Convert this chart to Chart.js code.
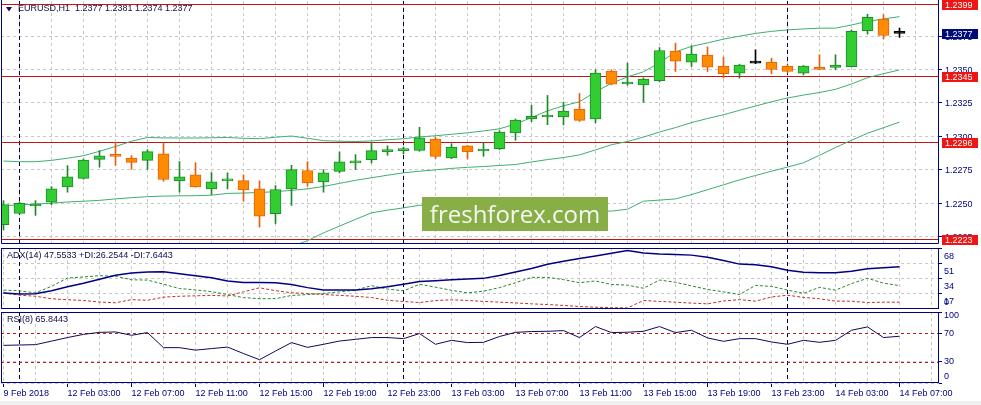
<!DOCTYPE html>
<html>
<head>
<meta charset="utf-8">
<title>EURUSD H1</title>
<script src="https://cdn.jsdelivr.net/npm/chart.js@4.4.1/dist/chart.umd.min.js"></script>
<style>
  body { margin: 0; background: #f0f0f0; }
  #wrap { position: relative; width: 981px; height: 405px; }
  #wrap canvas { position: absolute; left: 0; background: #fff; }
</style>
</head>
<body>
<div id="wrap">
  <canvas id="price-chart" width="981" height="246" style="top:0"></canvas>
  <canvas id="adx-chart" width="981" height="64" style="top:246px"></canvas>
  <canvas id="rsi-chart" width="981" height="91" style="top:310px"></canvas>
</div>
<script>
// EURUSD H1 bars, 9 Feb 23:00 .. 14 Feb 07:00
const opens = [1.2234, 1.22424, 1.2248, 1.22508, 1.22623, 1.22687, 1.22829, 1.22864, 1.22839, 1.22821,
  1.22869, 1.22668, 1.22712, 1.22608, 1.22668, 1.2267, 1.22608, 1.22422, 1.22608, 1.22745,
  1.2266, 1.22739, 1.22802, 1.22827, 1.22884, 1.22894, 1.22896, 1.22981, 1.22839, 1.22929,
  1.22891, 1.22909, 1.23026, 1.2313, 1.23145, 1.23145, 1.23205, 1.2313, 1.23488, 1.23392,
  1.23384, 1.23416, 1.23637, 1.23555, 1.23607, 1.23525, 1.23473, 1.23548, 1.23555, 1.23525,
  1.23473, 1.23518, 1.23515, 1.23522, 1.23791, 1.23876, 1.2377];
const highs = [1.2252, 1.2251, 1.2252, 1.22625, 1.22782, 1.2283, 1.22894, 1.22956, 1.22857, 1.22901,
  1.22951, 1.22812, 1.22804, 1.2273, 1.22728, 1.22713, 1.22668, 1.22633, 1.22784, 1.22812,
  1.22752, 1.22884, 1.22864, 1.22956, 1.2293, 1.22919, 1.23068, 1.22993, 1.22946, 1.22933,
  1.22951, 1.23043, 1.2313, 1.23232, 1.23306, 1.23257, 1.23321, 1.23498, 1.23498, 1.23548,
  1.23438, 1.23664, 1.23697, 1.23677, 1.23669, 1.23593, 1.2354, 1.23647, 1.23585, 1.23535,
  1.2353, 1.2361, 1.2361, 1.23796, 1.23913, 1.2391, 1.2381];
const lows = [1.2230, 1.2242, 1.2241, 1.2249, 1.22583, 1.2268, 1.2277, 1.22784, 1.22754, 1.22754,
  1.22665, 1.22583, 1.2262, 1.22566, 1.22608, 1.22516, 1.22322, 1.22349, 1.22484, 1.22628,
  1.22583, 1.22727, 1.22752, 1.22802, 1.22859, 1.22869, 1.22889, 1.22834, 1.22834, 1.22832,
  1.22851, 1.22901, 1.22971, 1.2311, 1.23088, 1.23086, 1.23112, 1.23101, 1.23385, 1.23383,
  1.23254, 1.23408, 1.23485, 1.23522, 1.23485, 1.23436, 1.23436, 1.23543, 1.23468, 1.23473,
  1.2346, 1.23498, 1.23498, 1.2352, 1.23764, 1.23729, 1.2374];
const closes = [1.2249, 1.2250, 1.2249, 1.22608, 1.22698, 1.22824, 1.22854, 1.22851, 1.22806, 1.22886,
  1.22678, 1.22698, 1.22623, 1.2266, 1.22683, 1.2260, 1.22404, 1.22603, 1.22752, 1.22653,
  1.22727, 1.2281, 1.22812, 1.22894, 1.22901, 1.22897, 1.22989, 1.22851, 1.22921, 1.22884,
  1.22901, 1.23033, 1.23123, 1.2315, 1.2315, 1.2319, 1.2312, 1.23473, 1.23391, 1.23396,
  1.23428, 1.23642, 1.23563, 1.23615, 1.23518, 1.23468, 1.23533, 1.23548, 1.235, 1.23485,
  1.23525, 1.235, 1.23533, 1.23786, 1.2389, 1.23754, 1.2377];

// Bollinger bands
const bbUpper = [1.22816, 1.22811, 1.22811, 1.22821, 1.22837, 1.22856, 1.22889, 1.22925, 1.22964, 1.22992,
  1.22989, 1.22988, 1.22988, 1.2299, 1.22992, 1.22986, 1.22983, 1.22994, 1.23003, 1.22986,
  1.22968, 1.22964, 1.22962, 1.22966, 1.22975, 1.22983, 1.22996, 1.23005, 1.23016, 1.23027,
  1.23041, 1.23057, 1.23093, 1.23141, 1.23191, 1.23229, 1.23259, 1.23333, 1.23397, 1.23445,
  1.23483, 1.2355, 1.23632, 1.23673, 1.23699, 1.23727, 1.23749, 1.2377, 1.23785, 1.23796,
  1.23803, 1.23809, 1.23809, 1.23833, 1.23859, 1.23878, 1.23895];
const bbMiddle = [1.22483, 1.22488, 1.22494, 1.22501, 1.2251, 1.22516, 1.22522, 1.22533, 1.22542, 1.2255,
  1.22554, 1.22556, 1.22557, 1.22561, 1.22574, 1.22577, 1.22581, 1.22587, 1.22597, 1.22608,
  1.22626, 1.22649, 1.22672, 1.22691, 1.2271, 1.22728, 1.2274, 1.2275, 1.22761, 1.22769,
  1.22775, 1.22783, 1.2279, 1.22809, 1.22827, 1.22842, 1.22862, 1.22899, 1.22938, 1.22962,
  1.22995, 1.23033, 1.23066, 1.23103, 1.23134, 1.23162, 1.23195, 1.23227, 1.23259, 1.23287,
  1.23309, 1.23328, 1.23352, 1.23392, 1.23439, 1.23469, 1.23497];
const bbLower = [1.22149, 1.22165, 1.22177, 1.22182, 1.22183, 1.22177, 1.22155, 1.2214, 1.22121, 1.22108,
  1.2212, 1.22124, 1.22127, 1.22132, 1.22156, 1.22168, 1.2218, 1.2218, 1.22177, 1.22221,
  1.22279, 1.2233, 1.2238, 1.22429, 1.22449, 1.22466, 1.22486, 1.22483, 1.22479, 1.22475,
  1.22471, 1.22468, 1.22464, 1.2246, 1.22456, 1.22453, 1.22449, 1.22445, 1.22442, 1.22456,
  1.22516, 1.22524, 1.22533, 1.22565, 1.22602, 1.22638, 1.22675, 1.22708, 1.2274, 1.22771,
  1.22803, 1.22859, 1.22917, 1.22971, 1.23024, 1.23065, 1.23107];

// ADX(14)
const adxLine = [18, 16.8, 17.2, 20.5, 25, 29, 33.5, 37.8, 40.3, 41.6,
  41.8, 39.7, 37.4, 35.2, 31.5, 29.8, 29.7, 29.6, 27.6, 24,
  21.3, 21.2, 21.2, 22.7, 25, 27.8, 30.8, 31.8, 32.8, 33.8,
  34.4, 37.5, 41.5, 45.5, 50.2, 53.5, 56.6, 59.6, 62.6, 65.7,
  63, 61.8, 61.3, 60.5, 58, 54.5, 50.4, 49.7, 47.4, 43.6,
  41.2, 40.6, 40.6, 42.5, 45.2, 46.4, 47.5533];
const plusDI = [21.2, 20.4, 18.1, 25.5, 34.8, 36, 37.4, 36.8, 32.8, 32.5,
  27.8, 23, 21.5, 19.5, 16.2, 12.8, 11.6, 11.6, 15.2, 16.2,
  17.4, 19.3, 21.2, 26.2, 22.4, 20.4, 27.8, 24.5, 21, 18.1,
  20, 24, 29.5, 35.5, 35.5, 33, 29.5, 31.5, 27.5, 26.8,
  23.3, 32.5, 30, 26, 22, 19.3, 16.2, 26.5, 25.4, 21.2,
  17.6, 24.3, 21.2, 28.5, 34.5, 29, 26.2544];
const minusDI = [18.1, 15.5, 14.3, 11.5, 10.4, 9.6, 7.8, 7, 10.5, 9.8,
  13.3, 14.3, 14.8, 15.3, 14.6, 19.3, 23.8, 20.6, 18.2, 17.4,
  16.3, 15.3, 14.3, 12.9, 9.7, 8.5, 7.2, 9.5, 10.3, 9.6,
  8.5, 7.7, 6.8, 5.8, 5, 4, 2.8, 2, 1.5, 1.2,
  9.6, 8.5, 7.7, 6.6, 5.8, 9, 10.5, 8.8, 13.5, 15.5,
  13, 11.5, 8.8, 8.8, 7.2, 7.7, 7.6443];

// RSI(8)
const rsiLine = [53, 53.5, 54, 59, 64, 68.5, 71.3, 71.9, 67.2, 71,
  49.8, 49.8, 46.3, 48.5, 50.6, 41.5, 32.8, 45, 56.9, 50.2,
  54.5, 59.1, 61.5, 64, 64, 62.5, 69.6, 54.5, 60.1, 56.9,
  57.3, 65.5, 71.3, 72.5, 72.8, 73.8, 64, 79.5, 71, 71.5,
  72.8, 79.5, 71, 74.3, 63.5, 58.7, 62.5, 62.5, 57.8, 54.5,
  60.1, 57.3, 60.1, 74.3, 79, 64, 65.8443];

// Time labels (every 4th bar) and bars where a new day starts
const xLabels = ['9 Feb 2018', '12 Feb 03:00', '12 Feb 07:00', '12 Feb 11:00', '12 Feb 15:00',
  '12 Feb 19:00', '12 Feb 23:00', '13 Feb 03:00', '13 Feb 07:00', '13 Feb 11:00',
  '13 Feb 15:00', '13 Feb 19:00', '13 Feb 23:00', '14 Feb 03:00', '14 Feb 07:00'];
const daySeparators = [1, 25, 49];

// Axis ticks and horizontal levels
const priceTicks = [1.2225, 1.2250, 1.2275, 1.2300, 1.2325, 1.2350, 1.2375];
const priceLevels = [1.2399, 1.2345, 1.2296, 1.2223];
const adxTicks = [17, 34, 51, 68];
const adxScaleLabels = [68, 51, 34, 17, 0];
const rsiTicks = [0, 30, 70, 100];
const rsiScaleLabels = [100, 70, 30, 0];
const rsiLevels = [70, 30];

const NAVY = '#000080';
const GRID = '#c8c8c8';
const LEVEL_RED = '#c41414';
const FONT = '9px "Liberation Sans", Arial, sans-serif';
const AXIS_W = 42;
const X_MIN = -0.15625, X_MAX = 58.46875;

Chart.defaults.font.family = '"Liberation Sans", Arial, sans-serif';
Chart.defaults.font.size = 9;
Chart.defaults.color = NAVY;

const toPoints = arr => arr.map((v, i) => ({ x: i, y: v }));
const last = arr => arr[arr.length - 1];

// vertical grid every 2 bars
const gridIdx = [];
for (let k = 0; k <= 58; k += 2) gridIdx.push(k);

function xAxis(showLabels) {
    return {
        type: 'linear', min: X_MIN, max: X_MAX, offset: false,
        afterBuildTicks: s => { s.ticks = gridIdx.map(v => ({ value: v })); },
        afterFit: s => { s.height = showLabels ? 18 : 0; s.paddingLeft = 0; s.paddingRight = 0; },
        grid: {
            color: GRID, drawTicks: showLabels, tickLength: 4, tickBorderDash: [],
            tickColor: c => (c.tick && c.tick.value % 4 === 0) ? NAVY : 'rgba(0,0,0,0)'
        },
        border: { display: false, dash: [3, 3] },
        ticks: {
            display: showLabels, align: 'start', maxRotation: 0, autoSkip: false, padding: 1,
            color: NAVY, callback: v => (v % 4 === 0 && xLabels[v / 4]) ? xLabels[v / 4] : ''
        }
    };
}

function yAxis(min, max, ticks, showLabels) {
    return {
        position: 'right', min, max,
        afterBuildTicks: s => { s.ticks = ticks.map(v => ({ value: v })); },
        // fixed width, and no extra room for half-labels at the ends
        afterFit: s => { s.width = AXIS_W; s.paddingTop = 0; s.paddingBottom = 0; },
        grid: { color: GRID, tickLength: 3, tickColor: NAVY, tickBorderDash: [] },
        border: { display: false, dash: [3, 3] },
        ticks: {
            display: showLabels, autoSkip: false, padding: 3, labelOffset: 1, color: NAVY,
            callback: v => v.toFixed(4)
        }
    };
}

// MT4-style decorations: separators, levels, frame, headers, price boxes
function panelDecor(cfg) {
    return {
        id: 'panelDecor',
        beforeDatasetsDraw(chart) {
            const { ctx, chartArea: a, scales: { x, y } } = chart;
            ctx.save();
            ctx.beginPath();
            ctx.rect(a.left, a.top, a.right - a.left, a.bottom - a.top);
            ctx.clip();
            ctx.lineWidth = 1;

            ctx.strokeStyle = '#00002a';
            ctx.setLineDash([4, 3]);
            daySeparators.forEach(k => {
                const px = Math.floor(x.getPixelForValue(k)) + 0.5;
                ctx.beginPath(); ctx.moveTo(px, a.top); ctx.lineTo(px, a.bottom); ctx.stroke();
            });

            ctx.strokeStyle = '#b81c1c';
            ctx.setLineDash([3, 3]);
            (cfg.dashedLevels || []).forEach(v => {
                const py = Math.round(y.getPixelForValue(v)) + 0.5;
                ctx.beginPath(); ctx.moveTo(a.left, py); ctx.lineTo(a.right, py); ctx.stroke();
            });

            ctx.strokeStyle = LEVEL_RED;
            ctx.setLineDash([]);
            (cfg.levels || []).forEach(v => {
                const py = Math.round(y.getPixelForValue(v)) + 0.5;
                ctx.beginPath(); ctx.moveTo(a.left, py); ctx.lineTo(a.right, py); ctx.stroke();
            });
            ctx.restore();
        },
        afterDatasetsDraw(chart) {
            const w = cfg.watermark;
            if (!w) return;
            const ctx = chart.ctx;
            ctx.save();
            ctx.fillStyle = '#88ae47';
            ctx.fillRect(w.x, w.y, w.w, w.h);
            ctx.font = '24px "Open Sans", sans-serif';
            ctx.fillStyle = '#f6f8f0';
            ctx.textAlign = 'center';
            ctx.textBaseline = 'alphabetic';
            ctx.fillText(w.text, w.x + w.w / 2, w.y + 26);
            ctx.restore();
        },
        afterDraw(chart) {
            const { ctx, chartArea: a, scales: { y } } = chart;
            ctx.save();
            ctx.strokeStyle = NAVY;
            ctx.lineWidth = 1;
            if (cfg.fullFrame) {
                ctx.strokeRect(a.left + 0.5, a.top + 0.5, a.right - a.left - 1, a.bottom - a.top - 1);
            } else {
                ctx.beginPath();
                ctx.moveTo(a.left + 0.5, 0);
                ctx.lineTo(a.left + 0.5, a.bottom - 0.5);
                ctx.lineTo(a.right - 0.5, a.bottom - 0.5);
                ctx.lineTo(a.right - 0.5, 0);
                ctx.stroke();
            }

            ctx.font = FONT;
            ctx.textAlign = 'left';
            ctx.textBaseline = 'middle';

            if (cfg.header) {
                ctx.fillStyle = '#10104a';
                ctx.fillText(cfg.header, cfg.headerX, a.top + 7.7);
                if (cfg.headerMark) {
                    ctx.beginPath();
                    ctx.moveTo(6, a.top + 6); ctx.lineTo(12, a.top + 6); ctx.lineTo(9, a.top + 10.5);
                    ctx.closePath();
                    ctx.fill();
                }
            }

            // clamped scale labels of the indicator windows
            (cfg.scaleLabels || []).forEach(v => {
                let py = y.getPixelForValue(v) + (cfg.labelShift || 0);
                py = Math.min(Math.max(py, a.top + 3.5), a.bottom - 6.5);
                ctx.fillStyle = NAVY;
                ctx.fillText(String(v), a.right + 5, py);
            });

            // price boxes on the right scale
            (cfg.boxes || []).forEach(b => {
                const py = Math.round(y.getPixelForValue(b.value));
                ctx.fillStyle = b.color;
                ctx.fillRect(a.right + 3, py - 4, 36, 10);
                ctx.fillStyle = '#fff';
                ctx.fillText(b.value.toFixed(4), a.right + 6, py + 1.5);
            });
            ctx.restore();
        }
    };
}

const baseOptions = {
    responsive: false,
    animation: false,
    events: [],
    plugins: { legend: { display: false }, tooltip: { enabled: false } }
};

// Candle colours: bull green, bear orange, doji black
const bodyFill = [], bodyLine = [];
opens.forEach((o, i) => {
    const c = closes[i];
    if (c > o) { bodyFill.push('#32cd32'); bodyLine.push('#1f8a2a'); }
    else if (c < o) { bodyFill.push('#ff8c00'); bodyLine.push('#e2600e'); }
    else { bodyFill.push('#000000'); bodyLine.push('#000000'); }
});

const BB_COLOR = '#3fae72';
const bandLine = arr => ({
    type: 'line', data: toPoints(arr), borderColor: BB_COLOR, borderWidth: 1,
    pointRadius: 0, tension: 0, order: 3
});

const n = opens.length;
const header = 'EURUSD,H1  ' + [opens[n - 1], highs[n - 1], lows[n - 1], closes[n - 1]]
    .map(v => v.toFixed(4)).join(' ');

new Chart(document.getElementById('price-chart'), {
    type: 'bar',
    data: {
        datasets: [
            bandLine(bbUpper),
            bandLine(bbMiddle),
            bandLine(bbLower),
            {
                data: highs.map((h, i) => ({ x: i, y: [lows[i], h] })),
                backgroundColor: bodyLine, borderWidth: 0, barThickness: 1,
                grouped: false, clip: 0, order: 2
            },
            {
                data: opens.map((o, i) => ({ x: i, y: [Math.min(o, closes[i]), Math.max(o, closes[i])] })),
                backgroundColor: bodyFill, borderColor: bodyLine, borderWidth: 1, borderSkipped: false,
                barThickness: 11, minBarLength: 2, grouped: false, clip: 0, order: 1
            }
        ]
    },
    options: {
        ...baseOptions,
        layout: { padding: { left: 1, top: 1, right: 0, bottom: 2 } },
        scales: { x: xAxis(false), y: yAxis(1.22196, 1.24012, priceTicks, true) }
    },
    plugins: [panelDecor({
        header, headerX: 18, headerMark: true,
        levels: priceLevels,
        boxes: [
            { value: priceLevels[0], color: '#ee1515' },
            { value: closes[n - 1], color: '#000a78' },
            { value: priceLevels[1], color: '#ee1515' },
            { value: priceLevels[2], color: '#ee1515' },
            { value: priceLevels[3], color: '#ee1515' }
        ],
        watermark: { x: 422, y: 197, w: 186, h: 34, text: 'freshforex.com' }
    })]
});

new Chart(document.getElementById('adx-chart'), {
    type: 'line',
    data: {
        datasets: [
            { data: toPoints(adxLine), borderColor: NAVY, borderWidth: 1.5 },
            { data: toPoints(plusDI), borderColor: '#2a862a', borderWidth: 1, borderDash: [3, 2] },
            { data: toPoints(minusDI), borderColor: '#c0302a', borderWidth: 1, borderDash: [3, 2] }
        ]
    },
    options: {
        ...baseOptions,
        elements: { point: { radius: 0 }, line: { tension: 0 } },
        layout: { padding: { left: 1, top: 2, right: 0, bottom: 1 } },
        scales: { x: xAxis(false), y: yAxis(0, 68.5, adxTicks, false) }
    },
    plugins: [panelDecor({
        fullFrame: true, headerX: 7,
        header: 'ADX(14) ' + last(adxLine).toFixed(4) + ' +DI:' + last(plusDI).toFixed(4) + ' -DI:' + last(minusDI).toFixed(4),
        scaleLabels: adxScaleLabels, labelShift: 8
    })]
});

new Chart(document.getElementById('rsi-chart'), {
    type: 'line',
    data: {
        datasets: [
            { data: toPoints(rsiLine), borderColor: '#0a0a5a', borderWidth: 1 }
        ]
    },
    options: {
        ...baseOptions,
        elements: { point: { radius: 0 }, line: { tension: 0 } },
        layout: { padding: { left: 1, top: 2, right: 0, bottom: 0 } },
        scales: { x: xAxis(true), y: yAxis(0, 100, rsiTicks, false) }
    },
    plugins: [panelDecor({
        fullFrame: true, headerX: 7,
        header: 'RSI(8) ' + last(rsiLine).toFixed(4),
        dashedLevels: rsiLevels,
        scaleLabels: rsiScaleLabels, labelShift: 0
    })]
});
</script>
</body>
</html>
